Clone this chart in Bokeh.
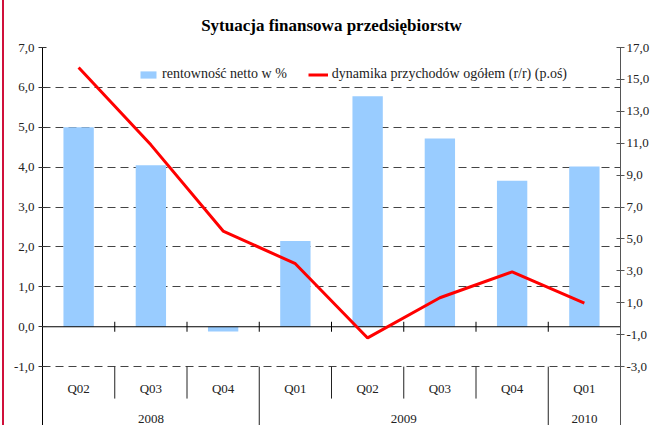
from bokeh.plotting import figure
from bokeh.layouts import row
from bokeh.models import (Range1d, LinearAxis, FixedTicker, CustomJSTickFormatter,
                          Legend, LegendItem, Div)
from bokeh.core.properties import value
from bokeh.embed import file_html
from bokeh.resources import INLINE

# ---- data ----
quarters = ["Q02", "Q03", "Q04", "Q01", "Q02", "Q03", "Q04", "Q01"]
years = ["2008", "2009", "2010"]
year_counts = [3, 4, 1]
rentownosc = [5.0, 4.05, -0.12, 2.15, 5.78, 4.72, 3.66, 4.02]
dynamika = [15.75, 10.9, 5.5, 3.45, -1.2, 1.32, 2.94, 0.98]
left_ticks = [-1, 0, 1, 2, 3, 4, 5, 6, 7]
right_ticks = [-3, -1, 1, 3, 5, 7, 9, 11, 13, 15, 17]
title_text = "Sytuacja finansowa przedsiębiorstw"
label_bars = "rentowność netto w %"
label_line = "dynamika przychodów ogółem (r/r) (p.oś)"

FONT = "Liberation Serif"
n = len(quarters)
xc = [i + 0.5 for i in range(n)]

L_TOP, L_BOT = 7.0, -2.475
R_TOP = 17.0
R_BOT = R_TOP - (L_TOP - L_BOT) * 2.5

p = figure(width=652, height=425, x_range=Range1d(0, n), y_range=Range1d(L_BOT, L_TOP),
           output_backend="svg", toolbar_location=None, x_axis_location=None,
           min_border_left=38, min_border_right=36, min_border_top=46, min_border_bottom=0,
           margin=(0, 0, 0, 0))
p.outline_line_color = None
p.background_fill_color = "white"
p.border_fill_color = "white"

p.title.text = title_text
p.title.align = "center"
p.title.text_font = FONT
p.title.text_font_size = "17px"
p.title.text_font_style = "bold"
p.title.text_color = "black"
p.title.standoff = 26

fmt = CustomJSTickFormatter(code="return tick.toFixed(1).replace('.', ',');")

ya = p.yaxis[0]
ya.ticker = FixedTicker(ticks=left_ticks)
ya.formatter = fmt
ya.axis_line_color = "black"
ya.major_tick_line_color = "#333333"
ya.major_tick_in = 4
ya.major_tick_out = 4
ya.minor_tick_line_color = None
ya.major_label_text_font = FONT
ya.major_label_text_font_size = "13px"
ya.major_label_text_color = "#222222"
ya.major_label_standoff = 4

p.extra_y_ranges = {"right": Range1d(R_BOT, R_TOP)}
ra = LinearAxis(y_range_name="right", ticker=FixedTicker(ticks=right_ticks), formatter=fmt)
ra.axis_line_color = "#555555"
ra.major_tick_line_color = "#555555"
ra.major_tick_in = 4
ra.major_tick_out = 4
ra.minor_tick_line_color = None
ra.major_label_text_font = FONT
ra.major_label_text_font_size = "13px"
ra.major_label_text_color = "#222222"
ra.major_label_standoff = 2
p.add_layout(ra, "right")

p.xgrid.visible = False
p.ygrid.ticker = FixedTicker(ticks=[t for t in left_ticks if t != 0])
p.ygrid.grid_line_color = "#444444"
p.ygrid.grid_line_dash = "8 5"
p.ygrid.grid_line_width = 1

bars = p.vbar(x=xc, top=rentownosc, bottom=0, width=0.42, color="#99CCFF", line_color=None)

# zero line with category ticks
p.segment(x0=[0], x1=[n], y0=[0], y1=[0], line_color="black", line_width=1)
inner = list(range(1, n))
p.segment(x0=inner, x1=inner, y0=[-0.125] * len(inner), y1=[0.125] * len(inner),
          line_color="black", line_width=1)

# category separators below the plot area
year_bounds = []
acc = 0
for c in year_counts:
    acc += c
    year_bounds.append(acc)
q_bounds = [b for b in inner if b not in year_bounds]
p.segment(x0=q_bounds, x1=q_bounds, y0=[-1] * len(q_bounds), y1=[-1.8] * len(q_bounds),
          line_color="#222222", line_width=1)
yb = [b for b in year_bounds if b < n]
p.segment(x0=yb, x1=yb, y0=[-1] * len(yb), y1=[L_BOT] * len(yb),
          line_color="#222222", line_width=1)

p.text(x=xc, y=[-1.55] * n, text=quarters, text_align="center", text_baseline="middle",
       text_font=value(FONT), text_font_size="13px", text_color="#222222")
starts = [0] + year_bounds[:-1]
yc = [(s + e) / 2 for s, e in zip(starts, year_bounds)]
p.text(x=yc, y=[-2.3] * len(years), text=years, text_align="center", text_baseline="middle",
       text_font=value(FONT), text_font_size="13px", text_color="#222222")

line = p.line(xc, dynamika, y_range_name="right", line_color="#FF0000", line_width=3)

legend = Legend(items=[LegendItem(label=label_bars, renderers=[bars]),
                       LegendItem(label=label_line, renderers=[line])],
                location=(96, 343), orientation="horizontal",
                border_line_color=None, background_fill_alpha=0,
                padding=0, margin=0, spacing=21, glyph_width=20, glyph_height=9,
                label_height=9, label_standoff=4,
                label_text_font=FONT, label_text_font_size="14px", label_text_color="#222222")
p.add_layout(legend)

# thin page-border line on the left
edge = Div(text="", width=4, height=425, margin=(0, 0, 0, 0),
           styles={"background": "linear-gradient(to right, #ffffff 0px, #ffffff 2px, "
                                 "#D0103A 2px, #D0103A 4px)"})

layout = row(edge, p, spacing=0, margin=(0, 0, 0, 0))
open("out.html", "w").write(file_html(layout, INLINE))
